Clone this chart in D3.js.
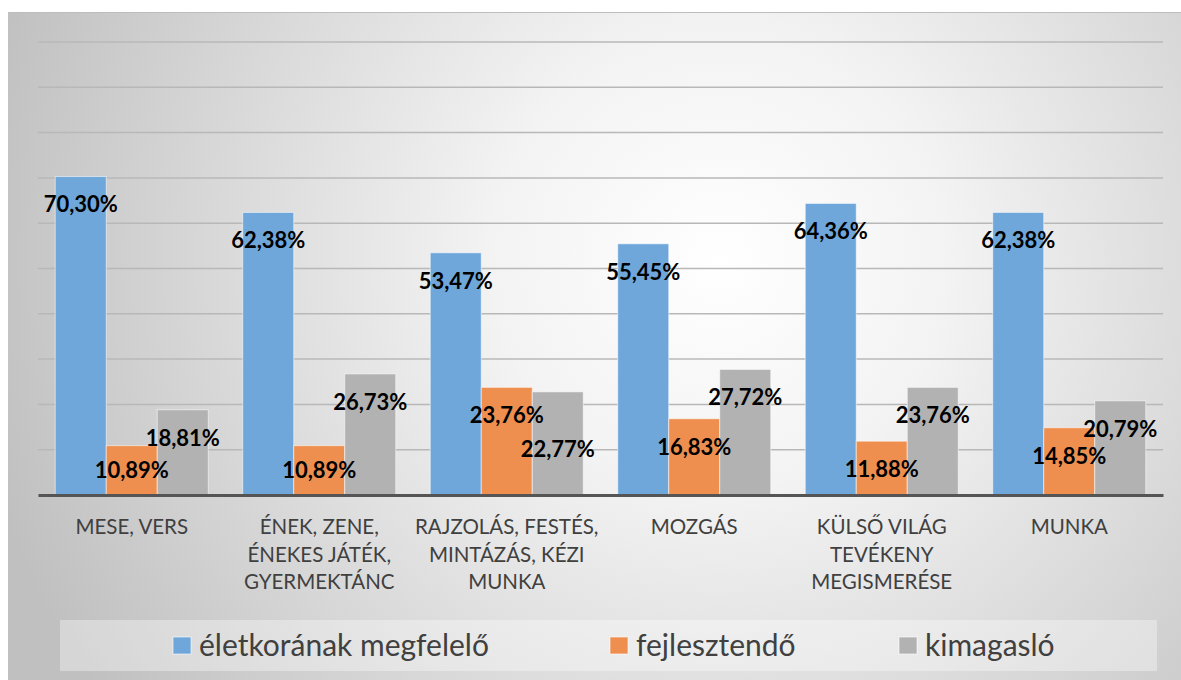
<!DOCTYPE html>
<html>
<head>
<meta charset="utf-8">
<script src="https://cdnjs.cloudflare.com/ajax/libs/d3/7.8.5/d3.min.js"></script>
<style>
  body { margin: 0; background: #fff; }
  svg { display: block; }
</style>
</head>
<body>
<div id="chart"></div>
<script>
// chart data
var categories = [
  ["MESE, VERS"],
  ["ÉNEK, ZENE,", "ÉNEKES JÁTÉK,", "GYERMEKTÁNC"],
  ["RAJZOLÁS, FESTÉS,", "MINTÁZÁS, KÉZI", "MUNKA"],
  ["MOZGÁS"],
  ["KÜLSŐ VILÁG", "TEVÉKENY", "MEGISMERÉSE"],
  ["MUNKA"]
];
var seriesNames = ["életkorának megfelelő", "fejlesztendő", "kimagasló"];
var eletkoranak = [70.30, 62.38, 53.47, 55.45, 64.36, 62.38];
var fejlesztendo = [10.89, 10.89, 23.76, 16.83, 11.88, 14.85];
var kimagaslo = [18.81, 26.73, 22.77, 27.72, 23.76, 20.79];
var gridTicks = [10, 20, 30, 40, 50, 60, 70, 80, 90, 100];

var colors = ["#6fa7db", "#ee8f50", "#b2b2b2"];
// a few labels were moved by hand in the original
var labelNudge = {"2-2": 29, "1-0": -4, "1-1": -4};

var W = 1181, H = 680;
var plot = {left: 38, right: 1163, top: 42, bottom: 495};

var svg = d3.select("#chart").append("svg")
  .attr("width", W)
  .attr("height", H);

var defs = svg.append("defs");
var grad = defs.append("radialGradient")
  .attr("id", "bg")
  .attr("gradientUnits", "userSpaceOnUse")
  .attr("cx", 720).attr("cy", 260).attr("r", 760);
grad.append("stop").attr("offset", "0%").attr("stop-color", "#ffffff");
grad.append("stop").attr("offset", "30%").attr("stop-color", "#f3f3f3");
grad.append("stop").attr("offset", "100%").attr("stop-color", "#c0c0c0");

svg.append("rect")
  .attr("x", 8).attr("y", 12)
  .attr("width", W - 8).attr("height", H - 12)
  .attr("fill", "url(#bg)");

svg.append("line")
  .attr("x1", 8).attr("x2", W)
  .attr("y1", 12.5).attr("y2", 12.5)
  .attr("stroke", "#bdbdbd");

var x = d3.scaleBand()
  .domain(d3.range(categories.length))
  .range([plot.left, plot.right])
  .paddingInner(0);

var xSub = d3.scaleBand()
  .domain(d3.range(seriesNames.length))
  .range([0, x.bandwidth()])
  .paddingInner(0)
  .paddingOuter(0.338);

var y = d3.scaleLinear()
  .domain([0, 100])
  .range([plot.bottom, plot.top]);

// gridlines
svg.append("g")
  .selectAll("line")
  .data(gridTicks)
  .enter()
  .append("line")
    .attr("x1", plot.left)
    .attr("x2", plot.right)
    .attr("y1", d => y(d))
    .attr("y2", d => y(d))
    .attr("stroke", "#b8b8b8")
    .attr("stroke-width", 1.5);

var allSeries = [eletkoranak, fejlesztendo, kimagaslo];
var bars = [];
allSeries.forEach(function(vals, s) {
  vals.forEach(function(v, c) {
    bars.push({s: s, c: c, v: v});
  });
});

// bars
svg.append("g")
  .selectAll("rect")
  .data(bars)
  .enter()
  .append("rect")
    .attr("x", d => x(d.c) + xSub(d.s))
    .attr("y", d => y(d.v))
    .attr("width", xSub.bandwidth())
    .attr("height", d => y(0) - y(d.v))
    .attr("fill", d => colors[d.s])
    .attr("stroke", "rgba(255,255,255,0.55)")
    .attr("stroke-width", 1);

// axis line
svg.append("g")
  .attr("transform", "translate(0," + y(0) + ")")
  .call(d3.axisBottom(x).tickSize(0).tickFormat(""))
  .call(g => g.select(".domain").attr("stroke", "#555").attr("stroke-width", 3));

// data labels
svg.append("g")
  .selectAll("text")
  .data(bars)
  .enter()
  .append("text")
    .attr("x", d => x(d.c) + xSub(d.s) + xSub.bandwidth() / 2)
    .attr("y", d => y(d.v) + 28 + (labelNudge[d.s + "-" + d.c] || 0))
    .attr("dy", "0.36em")
    .attr("text-anchor", "middle")
    .style("font-family", "Lato, 'Open Sans', sans-serif")
    .style("font-weight", "bold")
    .style("font-size", "22px")
    .attr("fill", "#000")
    .text(d => d.v.toFixed(2).replace(".", ",") + "%");

// category labels
var catG = svg.append("g");
categories.forEach(function(lines, c) {
  catG.append("text")
    .attr("x", x(c) + x.bandwidth() / 2)
    .attr("y", 527)
    .attr("text-anchor", "middle")
    .style("font-family", "Lato, 'Open Sans', sans-serif")
    .style("font-size", "20.5px")
    .attr("fill", "#404040")
    .selectAll("tspan")
    .data(lines)
    .enter()
    .append("tspan")
      .attr("x", x(c) + x.bandwidth() / 2)
      .attr("y", (d, i) => 527 + i * 27.5)
      .attr("dy", "0.36em")
      .text(d => d);
});

// legend
svg.append("rect")
  .attr("x", 60).attr("y", 620)
  .attr("width", 1097).attr("height", 51)
  .attr("fill", "#ffffff")
  .attr("fill-opacity", 0.35);

var legendX = [173, 610, 899];
var leg = svg.append("g")
  .selectAll("g")
  .data(seriesNames)
  .enter()
  .append("g")
    .attr("transform", (d, i) => "translate(" + legendX[i] + ",637)");

leg.append("rect")
  .attr("width", 18).attr("height", 17)
  .attr("fill", (d, i) => colors[i])
  .attr("stroke", "rgba(255,255,255,0.6)");

leg.append("text")
  .attr("x", 26)
  .attr("y", 8)
  .attr("dy", "0.36em")
  .style("font-family", "Lato, 'Open Sans', sans-serif")
  .style("font-size", "30px")
  .attr("fill", "#404040")
  .text(d => d);
</script>
</body>
</html>
